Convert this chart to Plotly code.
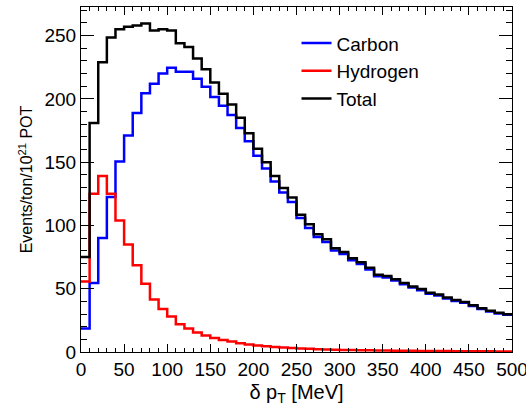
import plotly.graph_objects as go

# bin lower edges (MeV), 10 MeV bins from 0 to 500
bin_edges = list(range(0, 510, 10))

carbon = [18.5, 54.5, 90, 122.5, 150.5, 171, 188.8, 204.5, 212, 220,
          224.5, 221.5, 221.5, 216, 209.5, 201.5, 194.5, 187.3, 177, 166.5,
          155, 145, 134.8, 126, 118.5, 105.8, 98, 90.8, 87, 80.2,
          77.4, 72.5, 69.6, 65.2, 59.8, 58.9, 56.5, 53.5, 50.9, 48.8,
          46, 44.7, 42.3, 40.3, 38.9, 36.4, 34, 32, 30.5, 29.4]

hydrogen = [55.7, 125, 139, 125, 104, 85, 68.5, 54, 41.5, 34,
            28, 22, 18.5, 15.5, 13, 11, 9.5, 8.2, 7, 6,
            5.2, 4.6, 4, 3.5, 3.1, 2.8, 2.5, 2.2, 2.0, 1.8,
            1.6, 1.5, 1.4, 1.3, 1.2, 1.1, 1.0, 0.95, 0.9, 0.85,
            0.8, 0.75, 0.7, 0.65, 0.6, 0.55, 0.5, 0.5, 0.45, 0.4]

total = [75, 181, 229, 248.5, 255, 257, 258, 259.5, 254, 255,
         254, 244, 241, 232, 223.5, 213, 204, 195.5, 185, 172.8,
         160.5, 150, 139, 129.5, 122, 108.5, 101, 93, 89, 82,
         79, 74, 71, 66.5, 61, 60, 57.5, 54.5, 51.8, 49.7,
         46.8, 45.5, 43, 41, 39.5, 37, 34.5, 32.5, 31, 29.8]

series = [("Carbon", carbon, "#0000ff"),
          ("Hydrogen", hydrogen, "#ff0000"),
          ("Total", total, "#000000")]

FONT = "Liberation Sans, Arial, Helvetica, sans-serif"

fig = go.Figure()
for name, vals, col in series:
    fig.add_trace(go.Scatter(
        x=bin_edges,
        y=vals + [vals[-1]],
        mode="lines",
        line=dict(color=col, width=2.5, shape="hv"),
        name=name,
    ))

axis_common = dict(
    showline=True, linecolor="black", linewidth=1, mirror="ticks",
    ticks="inside", tickcolor="black", showgrid=False, zeroline=False,
    automargin=False, ticklabeloverflow="allow",
    tickfont=dict(family=FONT, size=19, color="black"),
)

fig.update_layout(
    width=526, height=410,
    margin=dict(l=81, r=14, t=7, b=58),
    paper_bgcolor="white", plot_bgcolor="white",
    font=dict(family=FONT, color="black"),
    xaxis=dict(
        range=[0, 500], dtick=50, tick0=0, ticklen=8,
        minor=dict(dtick=10, ticklen=4, ticks="inside", tickcolor="black"),
        title=dict(text="δ p<sub>T</sub> [MeV]", font=dict(family=FONT, size=20), standoff=6),
        **axis_common,
    ),
    yaxis=dict(
        range=[0, 272.6], dtick=50, tick0=0, ticklen=13,
        minor=dict(dtick=10, ticklen=6, ticks="inside", tickcolor="black"),
        title=dict(text="Events/ton/10<sup>21</sup> POT", font=dict(family=FONT, size=16), standoff=7),
        **axis_common,
    ),
    legend=dict(
        x=0.50, y=0.95, xanchor="left", yanchor="top",
        bgcolor="rgba(0,0,0,0)", borderwidth=0,
        font=dict(family=FONT, size=19, color="black"),
        tracegroupgap=0,
    ),
)

fig.write_html("out.html",
               config={"displayModeBar": False},
               post_script="document.body.style.margin='0px';document.body.style.padding='0px';")
